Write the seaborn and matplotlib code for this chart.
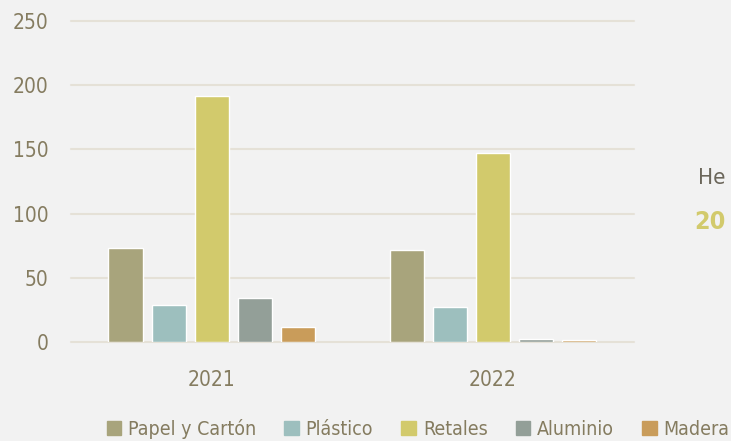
import pandas as pd
import matplotlib.pyplot as plt
import seaborn as sns

# Data
years = ['2021', '2022']
materials = ['Papel y Cartón', 'Plástico', 'Retales', 'Aluminio', 'Madera']
papel = [73, 72]
plastico = [29, 27]
retales = [192, 147]
aluminio = [34, 2]
madera = [12, 1.5]

colors = ['#a8a47c', '#9dbfbe', '#d2ca6c', '#939f98', '#c99c5a']
text_color = '#857c60'
bg = '#f2f2f2'

rows = []
for name, vals in zip(materials, [papel, plastico, retales, aluminio, madera]):
    for y, v in zip(years, vals):
        rows.append({'Año': y, 'Material': name, 'Toneladas': v})
df = pd.DataFrame(rows)

sns.set_style('white', {'axes.facecolor': bg, 'figure.facecolor': bg})
plt.rcParams['font.family'] = ['DejaVu Sans']
plt.rcParams['font.stretch'] = 'condensed'

fig = plt.figure(figsize=(7.31, 4.41), dpi=100)
ax = fig.add_axes([0.097, 0.2245, 0.77, 0.7275])

sns.barplot(data=df, x='Año', y='Toneladas', hue='Material', order=years,
            hue_order=materials, palette=colors, width=0.765, gap=0.21,
            saturation=1, ax=ax, legend=False)

ax.set_ylim(0, 250)
ax.set_xlim(-0.5, 1.5)
ax.set_yticks([0, 50, 100, 150, 200, 250])
ax.yaxis.grid(True, color='#e5e1d7', linewidth=1.5, zorder=0)
ax.set_axisbelow(True)
for gl in ax.get_ygridlines():
    gl.set_clip_on(False)
for s in ax.spines.values():
    s.set_visible(False)
ax.set_xlabel('')
ax.set_ylabel('')
ax.tick_params(axis='both', length=0, colors=text_color, labelsize=15)
ax.tick_params(axis='y', pad=16)
ax.tick_params(axis='x', pad=20)
for lbl in ax.get_xticklabels() + ax.get_yticklabels():
    lbl.set_color(text_color)
    lbl.set_fontweight('medium')

handles = [plt.Rectangle((0, 0), 1, 1, color=c) for c in colors]
leg = fig.legend(handles, materials, loc='lower center', bbox_to_anchor=(0.572, -0.035),
                 ncol=5, frameon=False, fontsize=14, labelcolor=text_color,
                 handlelength=0.75, handleheight=0.75, handletextpad=0.35, columnspacing=1.45)

# side text at the right edge
fig.text(0.955, 0.596, 'He', color='#6b665a', fontsize=16, va='center', ha='left')
fig.text(0.950, 0.497, '20', color='#d2ca6c', fontsize=18, va='center', ha='left',
         fontweight='bold')

fig.savefig('out.png', dpi=100, facecolor=bg)
